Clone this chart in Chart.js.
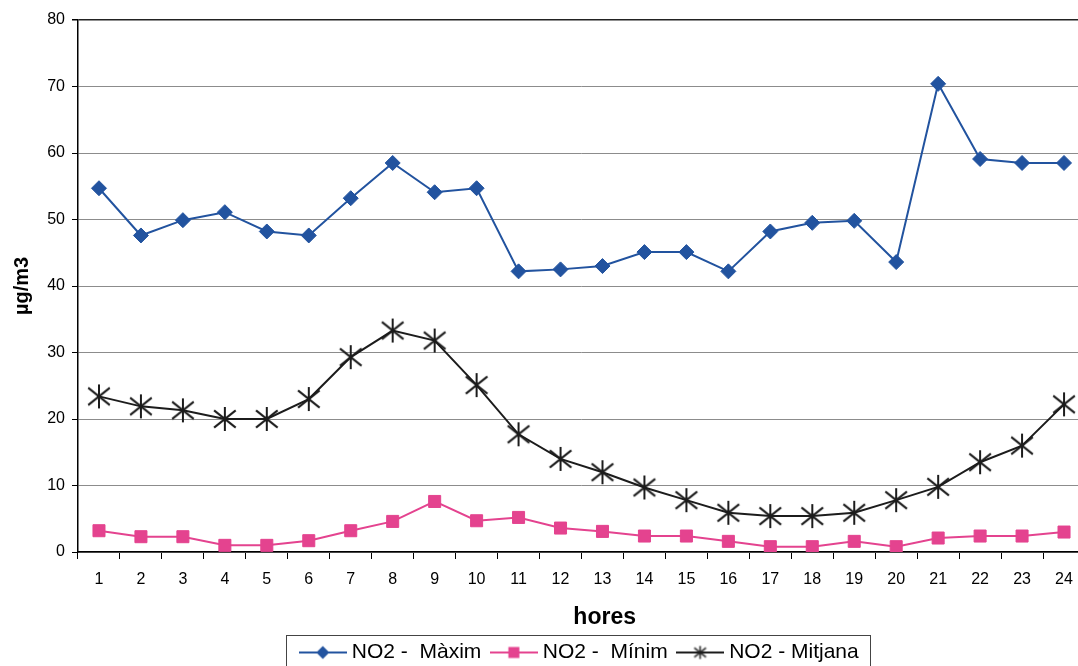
<!DOCTYPE html>
<html>
<head>
<meta charset="utf-8">
<script src="https://cdn.jsdelivr.net/npm/chart.js@4.4.1/dist/chart.umd.min.js"></script>
<style>
  html, body { margin: 0; padding: 0; background: #fff; width: 1078px; height: 666px; overflow: hidden; }
  #wrap { position: absolute; left: 0; top: 0; width: 1100px; height: 673px; }
</style>
</head>
<body>
<div id="wrap"><canvas id="c" width="1100" height="673"></canvas></div>
<script>
// Hourly NO2 concentrations (µg/m3)
const hours = ['1','2','3','4','5','6','7','8','9','10','11','12','13','14','15','16','17','18','19','20','21','22','23','24'];
const no2Max  = [54.7, 47.6, 49.9, 51.1, 48.2, 47.6, 53.2, 58.5, 54.1, 54.7, 42.2, 42.5, 43.0, 45.1, 45.1, 42.2, 48.2, 49.5, 49.8, 43.6, 70.4, 59.1, 58.5, 58.5];
const no2Min  = [3.2, 2.3, 2.3, 1.0, 1.0, 1.7, 3.2, 4.6, 7.6, 4.7, 5.2, 3.6, 3.1, 2.4, 2.4, 1.6, 0.8, 0.8, 1.6, 0.8, 2.1, 2.4, 2.4, 3.0];
const no2Mean = [23.4, 21.9, 21.3, 20.0, 20.0, 23.0, 29.3, 33.3, 31.8, 25.1, 17.7, 14.0, 12.0, 9.7, 7.8, 5.9, 5.4, 5.4, 5.9, 7.8, 9.8, 13.5, 16.0, 22.2];
const seriesNames = ['NO2 -  Màxim', 'NO2 -  Mínim', 'NO2 - Mitjana'];
const yMin = 0, yMax = 80, yStep = 10;

const BLUE = '#22539f';
const PINK = '#e4438f';
const DARK = '#1c1c1c';
const FONT = '"Liberation Sans", Arial, sans-serif';

// six-armed asterisk marker
function asterisk(size, lw) {
  const c = document.createElement('canvas');
  c.width = size; c.height = size;
  const g = c.getContext('2d');
  g.strokeStyle = DARK; g.lineWidth = lw; g.lineCap = 'butt';
  const m = size / 2, r = size / 2 - 1;
  g.beginPath();
  g.moveTo(m, m - r); g.lineTo(m, m + r);
  const dx = r * 0.9, dy = r * 0.72;
  g.moveTo(m - dx, m - dy); g.lineTo(m + dx, m + dy);
  g.moveTo(m - dx, m + dy); g.lineTo(m + dx, m - dy);
  g.stroke();
  return c;
}

// legend icon: short line with the series marker in the middle
function legendIcon(kind, color) {
  const w = 48, h = 20;
  const c = document.createElement('canvas');
  c.width = w; c.height = h;
  const g = c.getContext('2d');
  g.strokeStyle = color; g.lineWidth = 2;
  g.beginPath(); g.moveTo(0, h / 2); g.lineTo(w, h / 2); g.stroke();
  g.fillStyle = color;
  const cx = w / 2, cy = h / 2;
  if (kind === 'diamond') {
    g.beginPath();
    g.moveTo(cx, cy - 6.5); g.lineTo(cx + 6.5, cy); g.lineTo(cx, cy + 6.5); g.lineTo(cx - 6.5, cy); g.closePath(); g.fill();
  } else if (kind === 'square') {
    g.fillRect(cx - 5.5, cy - 5.5, 11, 11);
  } else {
    g.drawImage(asterisk(15, 1.5), cx - 7.5, cy - 7.5);
  }
  return c;
}

const meanMarker = asterisk(26, 2);
const legendIcons = [legendIcon('diamond', BLUE), legendIcon('square', PINK), legendIcon('star', DARK)];

// x-axis caption and framed legend
const decorations = {
  id: 'decorations',
  afterDraw(chart) {
    const ctx = chart.ctx;
    ctx.save();
    ctx.fillStyle = '#000';
    ctx.font = 'bold 23px ' + FONT;
    ctx.textAlign = 'center';
    ctx.textBaseline = 'middle';
    const a = chart.chartArea;
    ctx.fillText('hores', a.left + (a.right - a.left) * 0.523, 618);

    const boxes = chart.legend.legendHitBoxes;
    if (boxes && boxes.length) {
      const first = boxes[0], last = boxes[boxes.length - 1];
      const left = first.left - 18;
      const right = last.left + last.width + 12;
      const mid = first.top + first.height / 2;
      ctx.strokeStyle = '#444';
      ctx.lineWidth = 1;
      ctx.strokeRect(Math.round(left) + 0.5, Math.round(mid - 18) + 0.5, Math.round(right - left), 40);
    }
    ctx.restore();
  }
};

new Chart(document.getElementById('c'), {
  type: 'line',
  data: {
    labels: hours,
    datasets: [
      {
        label: seriesNames[0], data: no2Max,
        borderColor: BLUE, backgroundColor: BLUE, borderWidth: 2,
        pointStyle: 'rectRot', pointRadius: 7.5, pointBackgroundColor: BLUE, pointBorderColor: BLUE, pointBorderWidth: 1
      },
      {
        label: seriesNames[1], data: no2Min,
        borderColor: PINK, backgroundColor: PINK, borderWidth: 2,
        pointStyle: 'rect', pointRadius: 8.5, pointBackgroundColor: PINK, pointBorderColor: PINK, pointBorderWidth: 1
      },
      {
        label: seriesNames[2], data: no2Mean,
        borderColor: DARK, backgroundColor: DARK, borderWidth: 2,
        pointStyle: meanMarker, pointRadius: 13
      }
    ]
  },
  options: {
    responsive: false,
    animation: false,
    devicePixelRatio: 1,
    layout: { padding: { left: 0, right: 14, top: 20, bottom: 0 } },
    plugins: {
      tooltip: { enabled: false },
      legend: {
        position: 'bottom',
        fullSize: false,
        labels: {
          usePointStyle: true,
          pointStyleWidth: 37,
          padding: 14,
          color: '#000',
          font: { family: FONT, size: 21 },
          generateLabels(chart) {
            return chart.data.datasets.map((ds, i) => ({
              text: ds.label,
              pointStyle: legendIcons[i],
              datasetIndex: i,
              hidden: false,
              fontColor: '#000',
              lineWidth: 0,
              strokeStyle: 'rgba(0,0,0,0)',
              fillStyle: 'rgba(0,0,0,0)'
            }));
          }
        }
      }
    },
    scales: {
      x: {
        offset: true,
        afterFit(scale) { scale.height = 76; },
        grid: { offset: true, drawOnChartArea: false, drawTicks: true, tickLength: 7, tickColor: '#000' },
        border: { color: '#000', width: 1.5 },
        ticks: { color: '#000', padding: 11, maxRotation: 0, autoSkip: false, font: { family: FONT, size: 16 } }
      },
      y: {
        min: yMin, max: yMax,
        afterFit(scale) { scale.width = 78; },
        grid: {
          color: (c) => (c.tick && c.tick.value === yMax ? '#222' : '#8c8c8c'),
          lineWidth: (c) => (c.tick && c.tick.value === yMax ? 1.5 : 1),
          tickLength: 6, tickColor: '#000'
        },
        border: { color: '#000', width: 1.5 },
        ticks: { stepSize: yStep, color: '#000', padding: 7, font: { family: FONT, size: 16 } },
        title: { display: true, text: 'µg/m3', color: '#000', padding: { top: 10, bottom: 0 }, font: { family: FONT, size: 20, weight: 'bold' } }
      }
    }
  },
  plugins: [decorations]
});
</script>
</body>
</html>
